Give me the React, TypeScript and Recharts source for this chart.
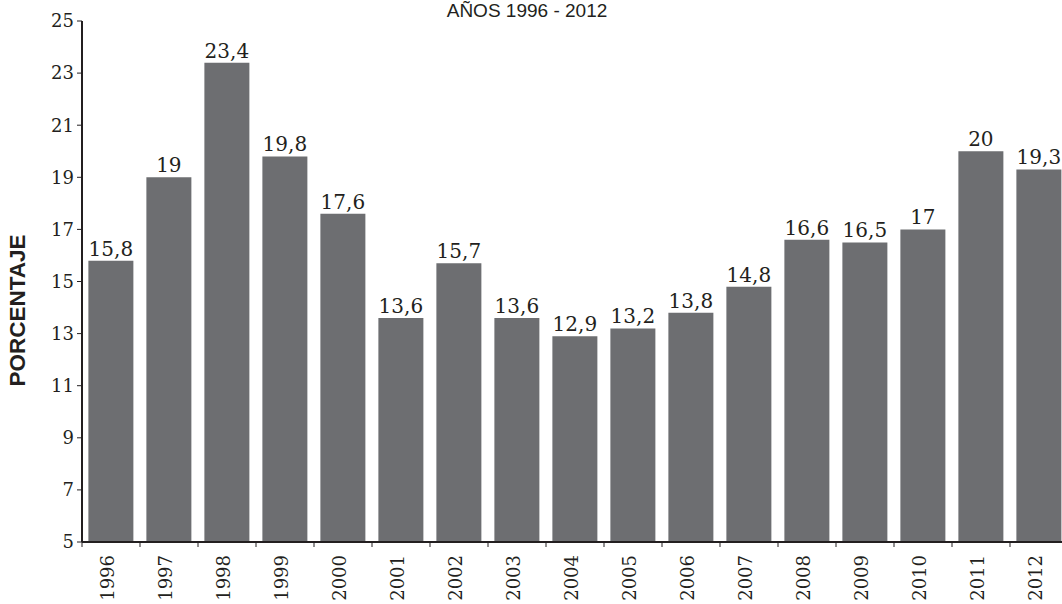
import React from 'react';
import { BarChart, Bar, XAxis, YAxis, LabelList } from 'recharts';

const years = ['1996', '1997', '1998', '1999', '2000', '2001', '2002', '2003', '2004', '2005', '2006', '2007', '2008', '2009', '2010', '2011', '2012'];
const values = [15.8, 19, 23.4, 19.8, 17.6, 13.6, 15.7, 13.6, 12.9, 13.2, 13.8, 14.8, 16.6, 16.5, 17, 20, 19.3];
const yTicks = [5, 7, 9, 11, 13, 15, 17, 19, 21, 23, 25];

const title = 'AÑOS 1996 - 2012';
const yLabel = 'PORCENTAJE';

const data = years.map((year, i) => ({ year, value: values[i] }));

const textColor = '#231f20';
const barColor = '#6d6e71';
const serif = '"DejaVu Serif", serif';
const sans = '"Liberation Sans", Arial, sans-serif';

const CHART_W = 1080;
const CHART_H = 604;
const Y_AXIS_W = 82;
const MARGIN_RIGHT = 12;

// year tick: label rotated, tick mark sits on the category boundary (left edge of the band)
const YearTick = (props: any) => {
  const { x, y, payload } = props;
  const half = payload && payload.offset ? payload.offset : (CHART_W - Y_AXIS_W - MARGIN_RIGHT) / years.length / 2;
  const axisY = y - 9;
  return (
    <g>
      <line x1={x - half} x2={x - half} y1={axisY} y2={axisY + 5} stroke={textColor} strokeWidth={1} />
      <text
        x={x - 4}
        y={y + 4}
        transform={`rotate(-90, ${x - 4}, ${y + 4})`}
        textAnchor="end"
        dominantBaseline="central"
        fill={textColor}
        fontFamily={serif}
        fontSize={18}
      >
        {payload.value}
      </text>
    </g>
  );
};

const YLabel = (props: any) => {
  const vb = props.viewBox || { x: 0, y: 21, width: 82, height: 521 };
  const cx = 17.5;
  const cy = vb.y + vb.height / 2 + 29;
  return (
    <text
      x={cx}
      y={cy}
      transform={`rotate(-90, ${cx}, ${cy})`}
      textAnchor="middle"
      dominantBaseline="central"
      fill={textColor}
      fontFamily={sans}
      fontWeight="bold"
      fontSize={22.5}
    >
      {yLabel}
    </text>
  );
};

export default function App() {
  return (
    <div style={{ position: 'fixed', left: 0, top: 0, width: 1062, height: 604, overflow: 'hidden', background: '#fff' }}>
      <BarChart
        width={CHART_W}
        height={CHART_H}
        data={data}
        margin={{ top: 21, right: MARGIN_RIGHT, left: 0, bottom: 0 }}
        barCategoryGap="11%"
      >
        <XAxis
          dataKey="year"
          height={62}
          interval={0}
          axisLine={{ stroke: textColor, strokeWidth: 2 }}
          tickLine={false}
          tickSize={5}
          tickMargin={4}
          tick={<YearTick />}
        />
        <YAxis
          type="number"
          domain={[5, 25]}
          ticks={yTicks}
          interval={0}
          width={Y_AXIS_W}
          axisLine={{ stroke: textColor, strokeWidth: 2 }}
          tickLine={{ stroke: textColor, strokeWidth: 1 }}
          tickSize={5}
          tickMargin={3}
          allowDataOverflow
          tick={{ fill: textColor, fontFamily: serif, fontSize: 18 }}
          label={<YLabel />}
        />
        <Bar dataKey="value" fill={barColor} isAnimationActive={false}>
          <LabelList
            dataKey="value"
            position="top"
            offset={5}
            formatter={(v: any) => String(v).replace('.', ',')}
            style={{ fill: textColor, fontFamily: serif, fontSize: 20 }}
          />
        </Bar>
      </BarChart>
      <div
        style={{
          position: 'absolute',
          left: 0,
          top: 1,
          width: 1054,
          textAlign: 'center',
          fontFamily: sans,
          fontSize: 19,
          lineHeight: '19px',
          color: textColor,
        }}
      >
        {title}
      </div>
    </div>
  );
}
